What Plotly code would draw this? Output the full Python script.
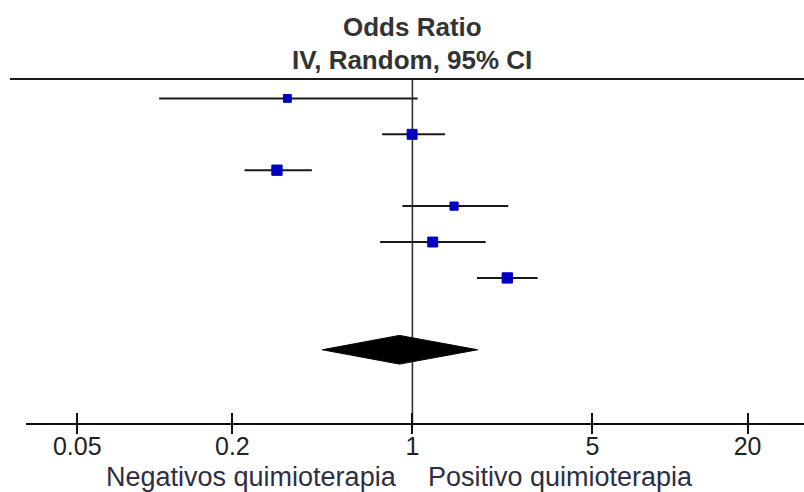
import numpy as np
import plotly.graph_objects as go

# ---- data ----
studies = ["Study 1", "Study 2", "Study 3", "Study 4", "Study 5", "Study 6"]
odds_ratio = [0.327, 0.997, 0.298, 1.451, 1.199, 2.335]
ci_low = [0.104, 0.763, 0.223, 0.915, 0.749, 1.781]
ci_high = [1.048, 1.339, 0.407, 2.356, 1.924, 3.060]
weights = [11, 17, 18, 12, 17, 18]
pooled_or = 0.890
pooled_low = 0.447
pooled_high = 1.791
tick_values = [0.05, 0.2, 1, 5, 20]
tick_labels = ["0.05", "0.2", "1", "5", "20"]
title_lines = ["Odds Ratio", "IV, Random, 95% CI"]
label_left = "Negativos quimioterapia"
label_right = "Positivo quimioterapia"

FONT = "Liberation Sans, Arial, sans-serif"
TXT = "#333333"

rows = list(range(1, len(studies) + 1))
pooled_row = len(studies) + 2

fig = go.Figure()

# CI lines
xs, ys = [], []
for r, lo, hi in zip(rows, ci_low, ci_high):
    xs += [lo, hi, None]
    ys += [r, r, None]
fig.add_trace(go.Scatter(x=xs, y=ys, mode="lines",
                         line=dict(color="#1a1a1a", width=2),
                         hoverinfo="skip", showlegend=False))

# squares
fig.add_trace(go.Scatter(x=odds_ratio, y=rows, mode="markers",
                         marker=dict(symbol="square", color="#0000c0",
                                     size=[4 + 0.35 * w for w in weights],
                                     opacity=1,
                                     line=dict(color="#0000c0", width=1)),
                         text=studies, showlegend=False))

# pooled diamond
h = 0.40
fig.add_trace(go.Scatter(
    x=[pooled_low, pooled_or, pooled_high, pooled_or, pooled_low],
    y=[pooled_row, pooled_row - h, pooled_row, pooled_row + h, pooled_row],
    mode="lines", fill="toself", fillcolor="#000000",
    line=dict(color="#000000", width=1), showlegend=False))

# invisible trace for the secondary (inside-tick) axis
fig.add_trace(go.Scatter(x=[1], y=[1], xaxis="x2", mode="markers",
                         marker=dict(opacity=0), showlegend=False,
                         hoverinfo="skip"))

# vertical line of no effect
fig.add_shape(type="line", xref="x", yref="paper", x0=1, x1=1, y0=0, y1=1,
              line=dict(color="#333333", width=1.6), layer="below")
# top rule
fig.add_shape(type="line", xref="paper", yref="paper", x0=-0.0206, x1=1.01,
              y0=1, y1=1, line=dict(color="#1a1a1a", width=2))

# titles
fig.add_annotation(text="<b>" + title_lines[0] + "</b>", xref="x", yref="paper",
                   x=np.log10(1), y=1.152, showarrow=False, yanchor="middle",
                   font=dict(family=FONT, size=26, color=TXT))
fig.add_annotation(text="<b>" + title_lines[1] + "</b>", xref="x", yref="paper",
                   x=np.log10(1), y=1.054, showarrow=False, yanchor="middle",
                   font=dict(family=FONT, size=26, color=TXT))

# bottom labels
fig.add_annotation(text=label_left, xref="paper", yref="paper",
                   x=0.4794, y=-0.157, xanchor="right", yanchor="middle",
                   showarrow=False, font=dict(family=FONT, size=27, color="#2e2e44"))
fig.add_annotation(text=label_right, xref="paper", yref="paper",
                   x=0.5138, y=-0.157, xanchor="left", yanchor="middle",
                   showarrow=False, font=dict(family=FONT, size=27, color="#2e2e44"))

xr = [-1.5, 1.52]
fig.update_layout(
    width=804, height=492,
    margin=dict(l=26, r=0, t=79, b=69),
    paper_bgcolor="white", plot_bgcolor="white",
    showlegend=False,
    xaxis=dict(type="log", range=xr, tickvals=tick_values, ticktext=tick_labels,
               showgrid=False, zeroline=False, showline=True,
               linecolor="#111111", linewidth=2,
               ticks="outside", ticklen=9, tickwidth=1.5, tickcolor="#111111",
               tickfont=dict(family=FONT, size=25, color="#222222"),
               ticklabelstandoff=-9),
    xaxis2=dict(type="log", range=xr, overlaying="x", side="bottom",
                anchor="y", tickvals=tick_values, showticklabels=False,
                showgrid=False, zeroline=False, showline=False,
                ticks="inside", ticklen=10, tickwidth=1.5, tickcolor="#111111"),
    yaxis=dict(range=[10.04, 0.46], visible=False, showgrid=False,
               zeroline=False),
)

fig.write_html("out.html",
               config={"displayModeBar": False},
               post_script="document.body.style.margin='0';"
                           "document.body.style.overflow='hidden';")
